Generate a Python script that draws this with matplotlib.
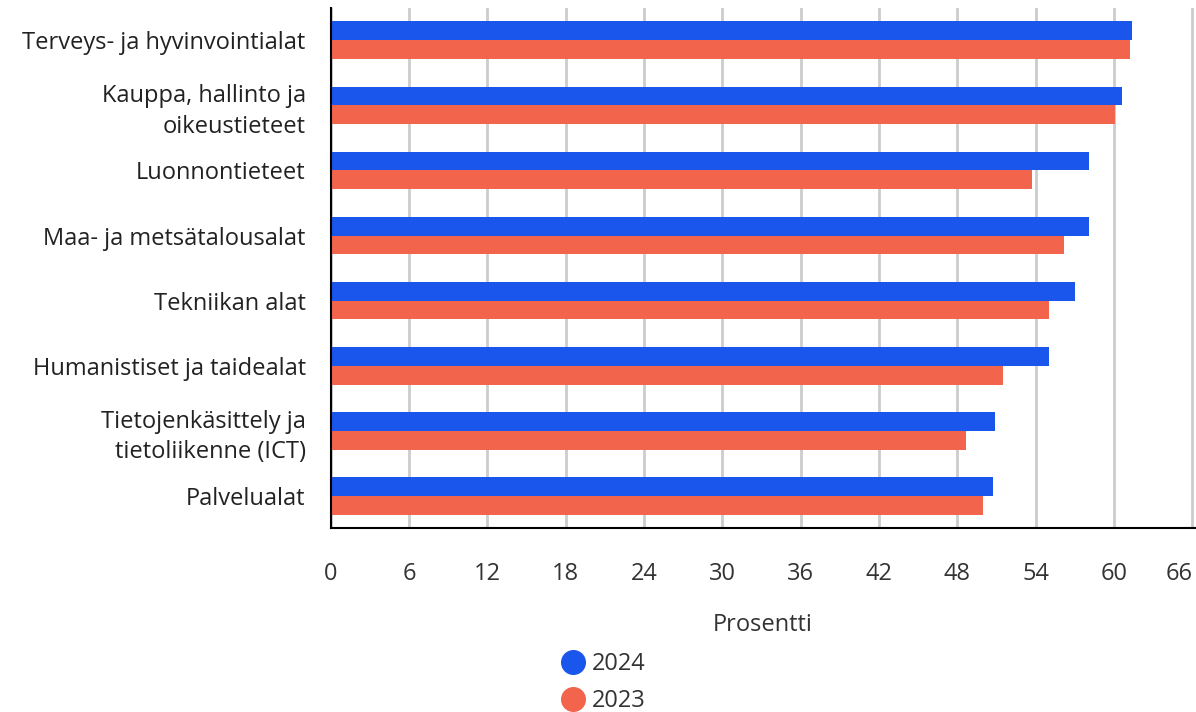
import numpy as np
import matplotlib
matplotlib.use('Agg')
import matplotlib.pyplot as plt
from matplotlib.lines import Line2D

plt.rcParams['font.family'] = ['Open Sans', 'DejaVu Sans']

categories = ['Terveys- ja hyvinvointialat', 'Kauppa, hallinto ja\noikeustieteet',
              'Luonnontieteet', 'Maa- ja metsätalousalat', 'Tekniikan alat',
              'Humanistiset ja taidealat', 'Tietojenkäsittely ja\ntietoliikenne (ICT)',
              'Palvelualat']
vals_2024 = [61.4, 60.6, 58.1, 58.1, 57.0, 55.0, 50.9, 50.75]
vals_2023 = [61.25, 60.1, 53.7, 56.2, 55.0, 51.5, 48.7, 50.0]
xticks = list(range(0, 67, 6))

blue = '#1a56eb'
red = '#f3644d'
fs = 17

fig = plt.figure(figsize=(11.96, 7.12), dpi=100)
ax = fig.add_axes([0.2765, 0.258, 0.7225, 0.731])

y = np.arange(len(categories))
h = 0.29
ax.barh(y - h / 2, vals_2024, height=h, color=blue, zorder=3)
ax.barh(y + h / 2, vals_2023, height=h, color=red, zorder=3)

ax.set_ylim(len(categories) - 0.5, -0.5)
ax.set_xlim(0, 66.2)
ax.set_yticks(y)
ax.set_yticklabels(categories, fontsize=fs, color='#222222', linespacing=1.35)
ax.set_xticks(xticks)
ax.set_xticklabels([str(t) for t in xticks], fontsize=fs, color='#333333')
ax.get_xticklabels()[-1].set_horizontalalignment('right')
ax.tick_params(axis='both', length=0)
ax.tick_params(axis='x', pad=24)
ax.tick_params(axis='y', pad=18)

ax.grid(axis='x', color='#cccccc', linewidth=2, zorder=0)
for s in ['top', 'right']:
    ax.spines[s].set_visible(False)
ax.spines['left'].set_linewidth(1.5)
ax.spines['bottom'].set_linewidth(1.5)
ax.spines['left'].set_zorder(4)
ax.spines['bottom'].set_zorder(4)

ax.set_xlabel('Prosentti', fontsize=fs, color='#333333', labelpad=20)

handles = [Line2D([], [], marker='o', linestyle='', markersize=17, color=blue),
           Line2D([], [], marker='o', linestyle='', markersize=17, color=red)]
fig.legend(handles, ['2024', '2023'], loc='upper left', bbox_to_anchor=(0.461, 0.097),
           frameon=False, fontsize=fs, handletextpad=0.3, labelspacing=0.55,
           borderaxespad=0, handlelength=1.0, labelcolor='#333333')

fig.savefig('out.png', dpi=100)
